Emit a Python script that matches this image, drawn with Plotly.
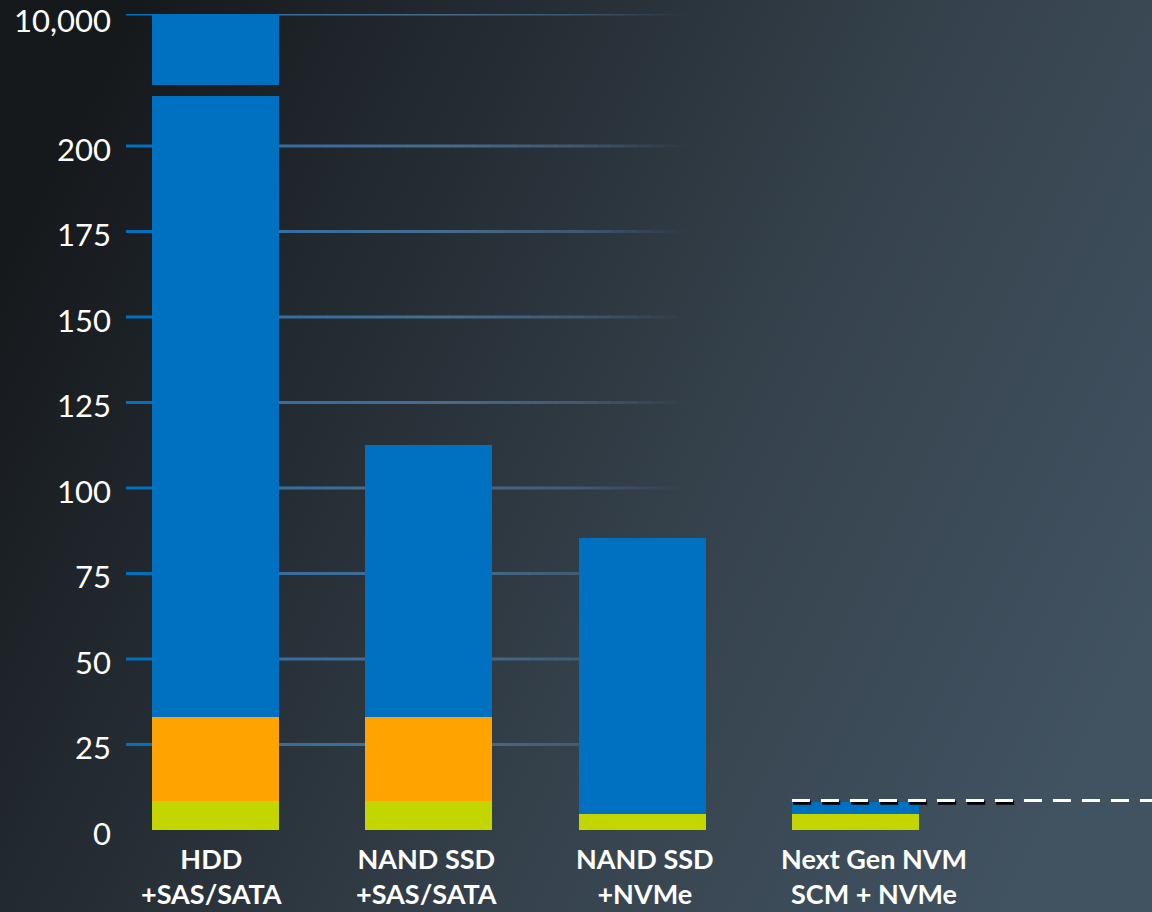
import base64
import plotly.graph_objects as go

# ---------------- data ----------------
categories = ["HDD<br>+SAS/SATA", "NAND SSD<br>+SAS/SATA", "NAND SSD<br>+NVMe", "Next Gen NVM<br>SCM + NVMe"]
green_vals = [8.5, 8.5, 4.7, 4.7]
orange_vals = [24.5, 24.5, 0, 0]
total_vals = [10000, 112.5, 85.5, 8.2]
lower_ticks = [0, 25, 50, 75, 100, 125, 150, 175, 200]
upper_ticks = [10000]
upper_tick_text = ["10,000"]
target_line = 8.6

blue_vals = [t - g - o for t, g, o in zip(total_vals, green_vals, orange_vals)]
xpos = list(range(len(categories)))

BLUE = "#0070c0"
ORANGE = "#ffa300"
GREEN = "#c4d600"

W, H = 1152, 912
L, R, T, B = 126, 0, 14, 82
PW = W - L - R
PH = H - T - B

fig = go.Figure()
for yax in ["y", "y2"]:
    for name, vals, col in [("green", green_vals, GREEN), ("orange", orange_vals, ORANGE), ("blue", blue_vals, BLUE)]:
        fig.add_trace(go.Bar(x=xpos, y=vals, marker=dict(color=col, line=dict(width=0)),
                             width=0.595, yaxis=yax, showlegend=False, hoverinfo="skip"))

# background gradient (svg)
svg = ("<svg xmlns='http://www.w3.org/2000/svg' width='1152' height='912' preserveAspectRatio='none'>"
       "<defs><linearGradient id='g' x1='0' y1='0.3' x2='1' y2='0.7'>"
       "<stop offset='0' stop-color='#16191c'/>"
       "<stop offset='0.3' stop-color='#252d34'/>"
       "<stop offset='0.65' stop-color='#37444f'/>"
       "<stop offset='1' stop-color='#415261'/>"
       "</linearGradient></defs><rect width='1152' height='912' fill='url(#g)'/></svg>")
src = "data:image/svg+xml;base64," + base64.b64encode(svg.encode()).decode()
fig.add_layout_image(dict(source=src, xref="paper", yref="paper", x=-L / PW, y=1 + T / PH,
                          sizex=W / PW, sizey=H / PH, sizing="stretch", layer="below", opacity=1,
                          xanchor="left", yanchor="top"))

def px2paper(px):
    return (px - L) / PW

def lerp(a, b, t):
    return a + (b - a) * t

# gradient grid lines + ticks
shapes = []
stops = [(152, (42, 112, 176, 1.0)), (450, (75, 115, 152, 0.9)), (580, (75, 112, 145, 0.6)), (690, (75, 110, 140, 0.0))]
NSEG = 40
def grid(yref, yv):
    shapes.append(dict(type="line", xref="paper", yref=yref, x0=px2paper(126), x1=px2paper(152),
                       y0=yv, y1=yv, line=dict(color=BLUE, width=3), layer="below"))
    x_start, x_end = 152, 690
    for i in range(NSEG):
        a = x_start + (x_end - x_start) * i / NSEG
        b = x_start + (x_end - x_start) * (i + 1) / NSEG
        m = (a + b) / 2
        for j in range(len(stops) - 1):
            if stops[j][0] <= m <= stops[j + 1][0]:
                t = (m - stops[j][0]) / (stops[j + 1][0] - stops[j][0])
                c = [lerp(stops[j][1][k], stops[j + 1][1][k], t) for k in range(4)]
                break
        shapes.append(dict(type="line", xref="paper", yref=yref, x0=px2paper(a), x1=px2paper(b) + 0.0005,
                           y0=yv, y1=yv, layer="below",
                           line=dict(color=f"rgba({int(c[0])},{int(c[1])},{int(c[2])},{c[3]:.3f})", width=3)))

for v in lower_ticks[1:]:
    grid("y", v)
for v in upper_ticks:
    grid("y2", v)

# target dashed line with shadow
bar_left = xpos[3] - 0.595 / 2
shapes.append(dict(type="line", xref="x", yref="y", x0=bar_left + 0.006, x1=3.75, y0=target_line - 0.6,
                   y1=target_line - 0.6, line=dict(color="black", width=4, dash="18px,11px"), layer="above"))
shapes.append(dict(type="line", xref="x", yref="y", x0=bar_left, x1=4.5, y0=target_line,
                   y1=target_line, line=dict(color="white", width=3, dash="18px,11px"), layer="above"))

# category labels as annotations (allow per-label horizontal nudge as in the reference)
label_xshift = [-4, -2, 3, 19]
annotations = []
for i, txt in enumerate(categories):
    annotations.append(dict(x=xpos[i], y=0, xref="x", yref="paper", yanchor="top", xanchor="center",
                            xshift=label_xshift[i], yshift=-10, text=txt, showarrow=False, align="center",
                            font=dict(family="Lato", size=27, color="white", weight="bold")))

ytickfont = dict(family="Lato", size=31, color="white")
fig.update_layout(
    width=W, height=H,
    margin=dict(l=L, r=R, t=T, b=B, pad=0, autoexpand=False),
    paper_bgcolor="#1f262c", plot_bgcolor="rgba(0,0,0,0)",
    barmode="stack", bargap=0.4,
    shapes=shapes, annotations=annotations,
    font=dict(family="Lato", color="white"),
    xaxis=dict(range=[(126 - 215.5) / 213.3, (1152 - 215.5) / 213.3], tickvals=xpos,
               showticklabels=False,
               showgrid=False, zeroline=False, showline=False, ticks="", automargin=False),
    yaxis=dict(domain=[0, (830 - 96) / PH], range=[0, (830 - 96) / 3.42], tickvals=lower_ticks,
               showgrid=False, zeroline=False, showline=False, ticks="", automargin=False,
               tickfont=ytickfont, ticklabelstandoff=14, ticklabelshift=4,
               ticklabeloverflow="allow"),
    yaxis2=dict(domain=[(830 - 85) / PH, 1], range=[9000, 10000], tickvals=upper_ticks,
                ticktext=upper_tick_text, showgrid=False, zeroline=False, showline=False, ticks="",
                automargin=False, tickfont=ytickfont, ticklabelstandoff=14, ticklabelshift=7,
                ticklabeloverflow="allow"),
)

fig.write_html("out.html", config={"displayModeBar": False},
               post_script="document.body.style.margin='0';document.body.style.overflow='hidden';")
